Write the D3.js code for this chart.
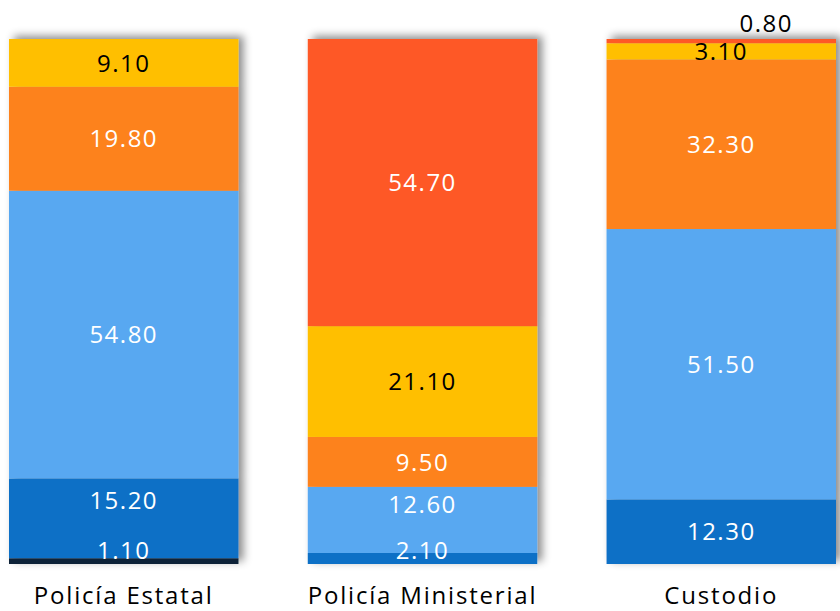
<!DOCTYPE html>
<html>
<head>
<meta charset="utf-8">
<script src="https://cdn.jsdelivr.net/npm/d3@7"></script>
<style>
  html, body { margin: 0; padding: 0; background: #fff; }
  svg text { font-family: "Open Sans", sans-serif; }
</style>
</head>
<body>
<svg id="chart" width="840" height="611"></svg>
<script>
// categories (x axis)
var categories = ["Policía Estatal", "Policía Ministerial", "Custodio"];

// series values, bottom to top
var navy      = [1.1, 0, 0];
var darkBlue  = [15.2, 2.1, 12.3];
var lightBlue = [54.8, 12.6, 51.5];
var orange    = [19.8, 9.5, 32.3];
var yellow    = [9.1, 21.1, 3.1];
var red       = [0, 54.7, 0.8];

var seriesKeys = ["navy", "darkBlue", "lightBlue", "orange", "yellow", "red"];
var seriesValues = [navy, darkBlue, lightBlue, orange, yellow, red];

var fills = {
    navy: "#0d2137", darkBlue: "#106fc6", lightBlue: "#58a8f1",
    orange: "#fd821f", yellow: "#ffbf00", red: "#fe5926"
};
var textColors = {
    navy: "#fff", darkBlue: "#fff", lightBlue: "#fff",
    orange: "#fff", yellow: "#000", red: "#fff"
};

var rows = categories.map(function (c, i) {
    var r = { cat: c };
    seriesKeys.forEach(function (k, j) { r[k] = seriesValues[j][i]; });
    return r;
});

var svg = d3.select("#chart");

var defs = svg.append("defs");
var f = defs.append("filter").attr("id", "shadow")
    .attr("x", "-10%").attr("y", "-10%").attr("width", "130%").attr("height", "120%");
f.append("feDropShadow")
    .attr("dx", 5).attr("dy", -3)
    .attr("stdDeviation", 4)
    .attr("flood-color", "#000")
    .attr("flood-opacity", 0.45);

var x = d3.scaleBand()
    .domain(categories)
    .range([9, 836])
    .paddingInner(0.232)
    .paddingOuter(0);

var y = d3.scaleLinear()
    .domain([0, 100])
    .range([564, 39]);

var stack = d3.stack().keys(seriesKeys)(rows);

var bars = svg.selectAll("g.bar")
    .data(categories)
    .enter().append("g")
    .attr("class", "bar")
    .attr("filter", "url(#shadow)");

bars.each(function (cat, i) {
    var g = d3.select(this);
    stack.forEach(function (layer) {
        var d = layer[i];
        if (d[1] - d[0] <= 0) return;
        g.append("rect")
            .attr("x", x(cat))
            .attr("width", x.bandwidth())
            .attr("y", y(d[1]))
            .attr("height", y(d[0]) - y(d[1]))
            .attr("fill", fills[layer.key]);
    });
});

// data labels
var labels = svg.append("g");
categories.forEach(function (cat, i) {
    var cx = x(cat) + x.bandwidth() / 2;
    var pushed = false; // a tiny bottom label pushes the next one up
    stack.forEach(function (layer) {
        var d = layer[i];
        var v = d[1] - d[0];
        if (v <= 0) return;
        var h = y(d[0]) - y(d[1]);
        var tx = cx, ty, color = textColors[layer.key], baseline = false;
        if (h < 12 && d[0] === 0) {
            ty = y(0) - 5; baseline = true; pushed = true;
        } else if (h < 12 && d[1] >= 99.9) {
            ty = y(100) - 7; baseline = true; tx = cx + 45; color = "#000";
        } else {
            ty = (y(d[0]) + y(d[1])) / 2;
            if (pushed) { ty -= 0.23 * h; pushed = false; }
        }
        labels.append("text")
            .attr("x", tx)
            .attr("y", ty)
            .attr("dy", baseline ? 0 : "0.36em")
            .attr("text-anchor", "middle")
            .attr("font-size", 24)
            .attr("letter-spacing", 1.5)
            .attr("fill", color)
            .text(v.toFixed(2));
    });
});

// category axis labels
var xAxis = d3.axisBottom(x).tickSize(0).tickPadding(0);
var ax = svg.append("g")
    .attr("transform", "translate(0,604)")
    .call(xAxis);
ax.select(".domain").remove();
ax.selectAll("text")
    .attr("y", 0)
    .attr("dy", 0)
    .attr("font-size", 24)
    .attr("letter-spacing", 1.8)
    .attr("fill", "#000")
    .style("font-family", "'Open Sans', sans-serif");
</script>
</body>
</html>
